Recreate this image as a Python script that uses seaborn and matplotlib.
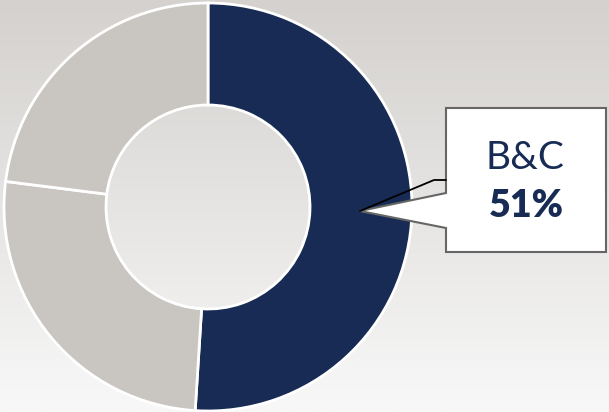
import numpy as np
import matplotlib
matplotlib.use("Agg")
import matplotlib.pyplot as plt
import seaborn as sns
from matplotlib.patches import Polygon

sns.set_theme(style="white")
plt.rcParams['font.family'] = ['Lato', 'DejaVu Sans']

# Segment shares, clockwise from 12 o'clock
labels = ["B&C", "Other A", "Other B"]
shares = [51, 26, 23]
colors = ["#172B54", "#C9C5C1", "#C9C5C1"]
callout_label = "B&C"
callout_value = "51%"

W, H = 609, 412
fig = plt.figure(figsize=(W / 100, H / 100), dpi=100)

# Vertical background gradient
bg = fig.add_axes([0, 0, 1, 1])
grad = np.linspace(0, 1, 256)[:, None]
top = np.array([0xD4, 0xD1, 0xCE]) / 255
bot = np.array([0xF8, 0xF8, 0xF8]) / 255
img = top[None, None, :] * (1 - grad[..., None]) + bot[None, None, :] * grad[..., None]
bg.imshow(img, aspect="auto", extent=[0, W, 0, H], origin="upper")
bg.set_xlim(0, W)
bg.set_ylim(0, H)
bg.axis("off")

# Donut
cx, cy, r = 208, 207, 204
ax = fig.add_axes([(cx - r) / W, (H - cy - r) / H, 2 * r / W, 2 * r / H])
ax.pie(shares, colors=colors, startangle=90, counterclock=False, radius=1,
       wedgeprops=dict(width=0.5, edgecolor="white", linewidth=2))
ax.set_xlim(-1.0, 1.0)
ax.set_ylim(-1.0, 1.0)
ax.set_aspect("equal")
ax.axis("off")

# Callout box with pointer (pixel coords, y measured from top)
ov = fig.add_axes([0, 0, 1, 1], facecolor="none")
ov.set_xlim(0, W)
ov.set_ylim(H, 0)
ov.axis("off")

tip = (360, 211)
box = [(446, 108), (606, 108), (606, 252), (446, 252), (446, 228), tip, (446, 193)]
ov.add_patch(Polygon(box, closed=True, facecolor="white", edgecolor="#666666",
                     linewidth=1.5, joinstyle="miter"))
ov.plot([tip[0], 434, 446], [tip[1], 180, 180], color="black", linewidth=1.3)

ov.text(525, 158, callout_label, ha="center", va="center", fontsize=28,
        fontweight="normal", color="#172B54")
ov.text(526, 206, callout_value, ha="center", va="center", fontsize=27,
        fontweight="heavy", color="#172B54")

fig.savefig("out.png", dpi=100)
